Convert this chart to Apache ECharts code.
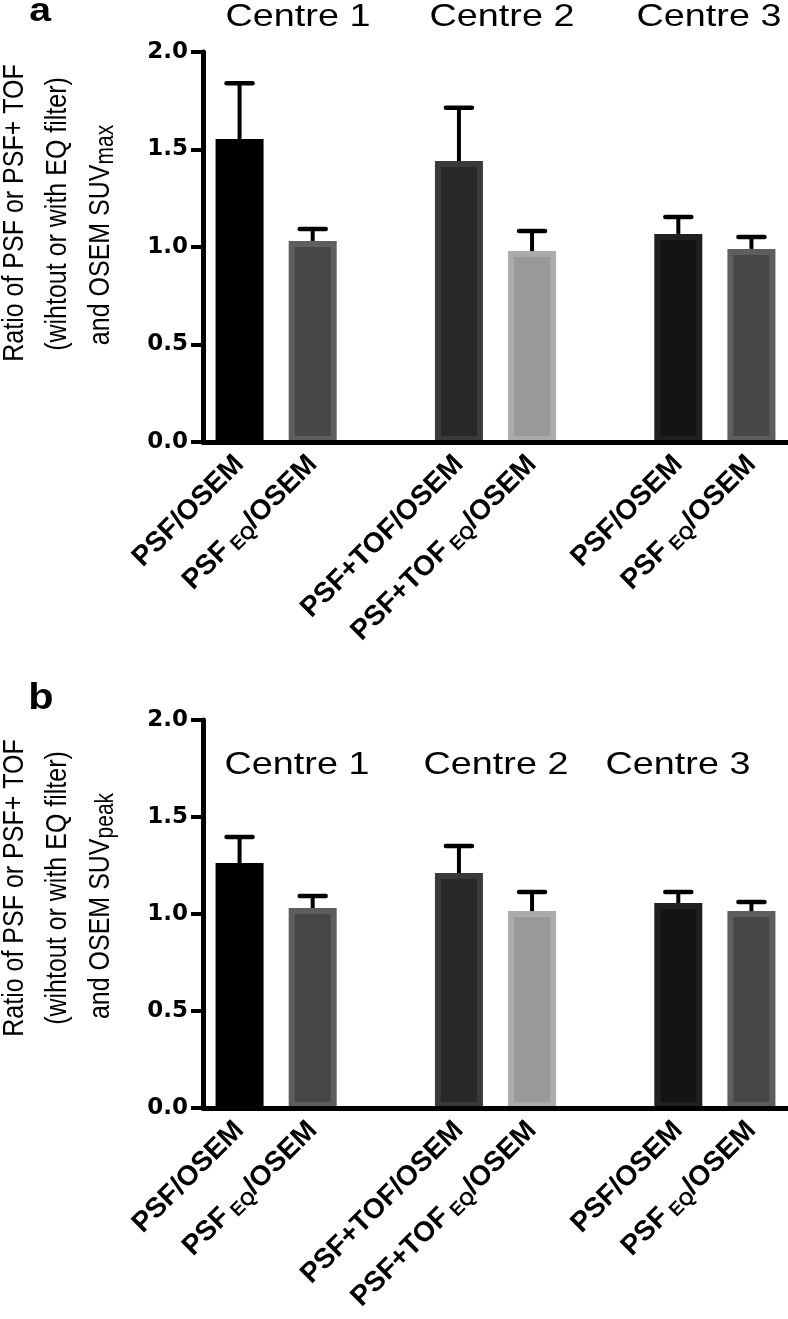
<!DOCTYPE html>
<html>
<head>
<meta charset="utf-8">
<script src="https://cdn.jsdelivr.net/npm/echarts@6/dist/echarts.min.js"></script>
<style>
html,body{margin:0;padding:0;background:#fff;}
#chart{width:788px;height:1319px;}
</style>
</head>
<body>
<div id="chart"></div>
<script>
// ---- data ----
const categories = ['PSF/OSEM', 'PSF_{EQ}/OSEM', '', 'PSF+TOF/OSEM', 'PSF+TOF_{EQ}/OSEM', '', 'PSF/OSEM', 'PSF_{EQ}/OSEM'];
const maxMeans  = [1.554, 1.031, null, 1.441, 0.979, null, 1.067, 0.990];
const maxUpper  = [1.840, 1.092, null, 1.714, 1.082, null, 1.154, 1.051];
const peakMeans = [1.263, 1.031, null, 1.211, 1.015, null, 1.057, 1.015];
const peakUpper = [1.397, 1.093, null, 1.351, 1.113, null, 1.113, 1.062];
const barFills  = ['#000000', '#474747', null, '#282828', '#999999', null, '#141414', '#474747'];
const barEdges  = ['#000000', '#5e5e5e', null, '#3a3a3a', '#ababab', null, '#202020', '#5e5e5e'];
const centreLabels = ['Centre 1', 'Centre 2', 'Centre 3'];
const panelLetters = ['a', 'b'];
const yTitleLines = ['Ratio of PSF or PSF+ TOF', '(wihtout or with EQ filter)', 'and OSEM SUV'];
const yTitleSubs = ['max', 'peak'];

const FONT = '"Liberation Sans", Arial, Helvetica, sans-serif';
const TICKFONT = '"DejaVu Sans", "Liberation Sans", sans-serif';

function labelRich(s) {
  const m = s.match(/^(.*)_\{(.*)\}(.*)$/);
  if (m) return '{m|' + m[1] + '}{s|' + m[2] + '}{m|' + m[3] + '}';
  return s ? '{m|' + s + '}' : '';
}

function barData(means) {
  return means.map((v, i) => v == null ? '-' : {
    value: v,
    itemStyle: { color: barFills[i], borderColor: barEdges[i], borderWidth: 6 }
  });
}
function errData(means, upper) {
  const out = [];
  means.forEach((v, i) => { if (v != null) out.push([i, v, upper[i]]); });
  return out;
}
function errRender(params, api) {
  const base = api.coord([api.value(0), api.value(1)]);
  const top = api.coord([api.value(0), api.value(2)]);
  return {
    type: 'group',
    children: [
      { type: 'line', shape: { x1: base[0], y1: base[1], x2: top[0], y2: top[1] },
        style: { stroke: '#000', lineWidth: 4 } },
      { type: 'line', shape: { x1: top[0] - 13, y1: top[1], x2: top[0] + 13, y2: top[1] },
        style: { stroke: '#000', lineWidth: 4.5, lineCap: 'round' } }
    ]
  };
}

const grids = [
  { left: 203, top: 52, width: 585, height: 390 },
  { left: 203, top: 720, width: 585, height: 388 }
];

function xAxis(gi) {
  return {
    type: 'category', gridIndex: gi, data: categories, z: 5,
    axisLine: { lineStyle: { color: '#000', width: 5 } },
    axisTick: { show: false },
    axisLabel: {
      interval: 0, rotate: 45, margin: 18,
      formatter: labelRich,
      rich: {
        m: { fontFamily: FONT, fontSize: 28, fontWeight: 'bold', color: '#000', lineHeight: 32 },
        s: { fontFamily: FONT, fontSize: 19, fontWeight: 'bold', color: '#000', lineHeight: 18,
             verticalAlign: 'bottom', padding: [0, 0, 0, 5] }
      }
    }
  };
}
function yAxis(gi) {
  return {
    type: 'value', gridIndex: gi, min: 0, max: 2, interval: 0.5, z: 5,
    axisLine: { show: true, lineStyle: { color: '#000', width: 5 } },
    axisTick: { show: true, length: 12, lineStyle: { color: '#000', width: 4 } },
    splitLine: { show: false },
    axisLabel: {
      margin: 15, fontFamily: TICKFONT, fontSize: 23, fontWeight: 'bold', color: '#000',
      formatter: v => v.toFixed(1)
    }
  };
}

// rotated title line; scaleY stretches horizontally on screen (figure is widened)
function yLine(x, y, text, sub) {
  return {
    type: 'text', x: x, y: y, rotation: Math.PI / 2, scaleY: 1.2,
    style: {
      text: sub ? '{m|' + text + '}{s|' + sub + '}' : '{m|' + text + '}',
      align: 'center', verticalAlign: 'middle',
      rich: {
        m: { fontFamily: FONT, fontSize: 25, color: '#000', lineHeight: 30 },
        s: { fontFamily: FONT, fontSize: 21, color: '#000', lineHeight: 17, verticalAlign: 'bottom' }
      }
    }
  };
}
function txt(x, y, s, size, weight, sx) {
  return {
    type: 'text', x: x, y: y, scaleX: sx || 1,
    style: { text: s, font: (weight || 'normal') + ' ' + size + 'px ' + FONT, fill: '#000',
             align: 'center', verticalAlign: 'middle' }
  };
}

const chart = echarts.init(document.getElementById('chart'), null, { renderer: 'canvas' });
chart.setOption({
  backgroundColor: '#fff',
  animation: false,
  grid: grids,
  xAxis: [xAxis(0), xAxis(1)],
  yAxis: [yAxis(0), yAxis(1)],
  series: [
    { type: 'bar', xAxisIndex: 0, yAxisIndex: 0, barWidth: 48, data: barData(maxMeans) },
    { type: 'bar', xAxisIndex: 1, yAxisIndex: 1, barWidth: 48, data: barData(peakMeans) },
    { type: 'custom', xAxisIndex: 0, yAxisIndex: 0, z: 4, renderItem: errRender,
      encode: { x: 0, y: 2 }, data: errData(maxMeans, maxUpper) },
    { type: 'custom', xAxisIndex: 1, yAxisIndex: 1, z: 4, renderItem: errRender,
      encode: { x: 0, y: 2 }, data: errData(peakMeans, peakUpper) }
  ],
  graphic: [
    txt(40, 12, panelLetters[0], 34, 'bold', 1.15),
    txt(41, 699, panelLetters[1], 36, 'bold', 1.15),
    txt(298, 17, centreLabels[0], 32, 'normal', 1.18),
    txt(502, 17, centreLabels[1], 32, 'normal', 1.18),
    txt(709, 17, centreLabels[2], 32, 'normal', 1.18),
    txt(297, 765, centreLabels[0], 32, 'normal', 1.18),
    txt(496, 765, centreLabels[1], 32, 'normal', 1.18),
    txt(678, 765, centreLabels[2], 32, 'normal', 1.18),
    yLine(15, 213, yTitleLines[0]),
    yLine(58, 214, yTitleLines[1]),
    yLine(101, 235, yTitleLines[2], yTitleSubs[0]),
    yLine(15, 888, yTitleLines[0]),
    yLine(58, 888, yTitleLines[1]),
    yLine(101, 906, yTitleLines[2], yTitleSubs[1])
  ]
});
</script>
</body>
</html>
